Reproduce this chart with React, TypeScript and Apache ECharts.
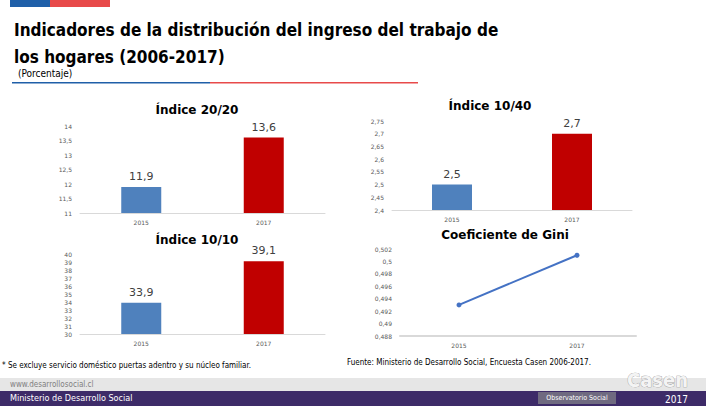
import React, { useEffect, useRef } from "react";
import * as echarts from "echarts";

const years = ["2015", "2017"];
const idx2020 = [11.9, 13.6];
const idx1040 = [2.5, 2.7];
const idx1010 = [33.9, 39.1];
const gini = [0.493, 0.501];
const barColors = ["#4f81bd", "#c00000"];

const comma = (v: number) => String(v).replace(".", ",");

export default function App() {
  const ref = useRef<HTMLDivElement>(null);
  useEffect(() => {
    const chart = echarts.init(ref.current!, null, { renderer: "svg" });
    const grids = [
      { left: 80, width: 245, top: 126, height: 87 },
      { left: 392, width: 240, top: 121, height: 89 },
      { left: 80, width: 245, top: 254, height: 80 },
      { left: 400, width: 236, top: 249, height: 87 },
    ];
    const yCfg = [
      { min: 11, max: 14, interval: 0.5 },
      { min: 2.4, max: 2.75, interval: 0.05 },
      { min: 30, max: 40, interval: 1 },
      { min: 0.488, max: 0.502, interval: 0.002 },
    ];
    const axLbl = { fontSize: 6, color: "#595959", fontFamily: "DejaVu Sans" };
    const barSeries = (data: number[], i: number) => ({
      type: "bar",
      xAxisIndex: i,
      yAxisIndex: i,
      barWidth: 40,
      data: data.map((v, k) => ({ value: v, itemStyle: { color: barColors[k] } })),
      label: {
        show: true,
        position: "top",
        formatter: (p: any) => comma(p.value),
        fontSize: 11,
        color: "#404040",
        fontFamily: "DejaVu Sans",
      },
    });
    const titleStyle = { fontSize: 12, fontWeight: "bold", color: "#404040", fontFamily: "DejaVu Sans" };
    const t = (text: string, x: number, y: number) => ({
      type: "text",
      x,
      y,
      style: { text, ...titleStyle, textAlign: "center", textVerticalAlign: "middle" },
    });
    chart.setOption({
      animation: false,
      grid: grids,
      xAxis: grids.map((_, i) => ({
        type: "category",
        gridIndex: i,
        data: years,
        axisTick: { show: false },
        axisLine: { lineStyle: { color: "#d9d9d9", width: i === 3 ? 2 : 1 } },
        axisLabel: { ...axLbl, margin: 6 },
      })),
      yAxis: yCfg.map((c, i) => ({
        type: "value",
        gridIndex: i,
        ...c,
        splitLine: { show: false },
        axisLine: { show: false },
        axisTick: { show: false },
        axisLabel: { ...axLbl, margin: 8, formatter: (v: number) => comma(+v.toFixed(3)) },
      })),
      series: [
        barSeries(idx2020, 0),
        barSeries(idx1040, 1),
        barSeries(idx1010, 2),
        {
          type: "line",
          xAxisIndex: 3,
          yAxisIndex: 3,
          data: gini,
          symbol: "circle",
          symbolSize: 5,
          lineStyle: { color: "#4472c4", width: 2 },
          itemStyle: { color: "#4472c4" },
        },
      ],
      graphic: [
        { type: "rect", shape: { x: 10, y: 0, width: 40, height: 7 }, style: { fill: "#1f5fa8" } },
        { type: "rect", shape: { x: 50, y: 0, width: 60, height: 7 }, style: { fill: "#e84a4a" } },
        {
          type: "text", x: 14, y: 21,
          style: { text: "Indicadores de la distribución del ingreso del trabajo de", fontSize: 17, fontWeight: "bold", fill: "#000", fontFamily: "DejaVu Sans Condensed" },
        },
        {
          type: "text", x: 14, y: 48,
          style: { text: "los hogares (2006-2017)", fontSize: 17, fontWeight: "bold", fill: "#000", fontFamily: "DejaVu Sans Condensed" },
        },
        {
          type: "text", x: 18, y: 68,
          style: { text: "(Porcentaje)", fontSize: 10, fill: "#000", fontFamily: "DejaVu Sans Condensed" },
        },
        { type: "rect", shape: { x: 12, y: 82, width: 198, height: 1.5 }, style: { fill: "#1f5fa8" } },
        { type: "rect", shape: { x: 210, y: 82, width: 208, height: 1.5 }, style: { fill: "#e84a4a" } },
        t("Índice 20/20", 197, 110),
        t("Índice 10/40", 490, 106),
        t("Índice 10/10", 197, 240),
        t("Coeficiente de Gini", 505, 235),
        {
          type: "text", x: 2, y: 361,
          style: { text: "* Se excluye servicio doméstico puertas adentro y su núcleo familiar.", fontSize: 8, fill: "#000", fontFamily: "DejaVu Sans Condensed" },
        },
        {
          type: "text", x: 347, y: 358,
          style: { text: "Fuente: Ministerio de Desarrollo Social, Encuesta Casen 2006-2017.", fontSize: 8, fill: "#000", fontFamily: "DejaVu Sans Condensed" },
        },
        { type: "rect", shape: { x: 0, y: 378, width: 706, height: 13 }, style: { fill: "#e6e6e6" } },
        { type: "rect", shape: { x: 0, y: 391, width: 706, height: 15 }, style: { fill: "#3d2b68" } },
        {
          type: "text", x: 10, y: 380,
          style: { text: "www.desarrollosocial.cl", fontSize: 8, fill: "#808080", fontFamily: "DejaVu Sans Condensed" },
        },
        {
          type: "text", x: 10, y: 393,
          style: { text: "Ministerio de Desarrollo Social", fontSize: 9, fill: "#fff", fontFamily: "DejaVu Sans Condensed" },
        },
        { type: "rect", shape: { x: 538, y: 392, width: 78, height: 12 }, style: { fill: "#6f6a80" } },
        {
          type: "text", x: 577, y: 398,
          style: { text: "Observatorio Social", fontSize: 7, fill: "#fff", textAlign: "center", textVerticalAlign: "middle", fontFamily: "DejaVu Sans Condensed" },
        },
        {
          type: "text", x: 688, y: 380,
          style: { text: "Casen", fontSize: 20, fontWeight: "bold", fill: "#f4f4f4", stroke: "#8a8a8a", lineWidth: 0.6, textAlign: "right", textVerticalAlign: "middle", fontFamily: "DejaVu Sans Condensed" },
        },
        {
          type: "text", x: 688, y: 399.5,
          style: { text: "2017", fontSize: 10, fill: "#fff", textAlign: "right", textVerticalAlign: "middle", fontFamily: "DejaVu Sans Condensed" },
        },
      ],
    });
    return () => chart.dispose();
  }, []);
  return <div ref={ref} style={{ position: "fixed", left: 0, top: 0, width: 706, height: 406, background: "#fff" }} />;
}
